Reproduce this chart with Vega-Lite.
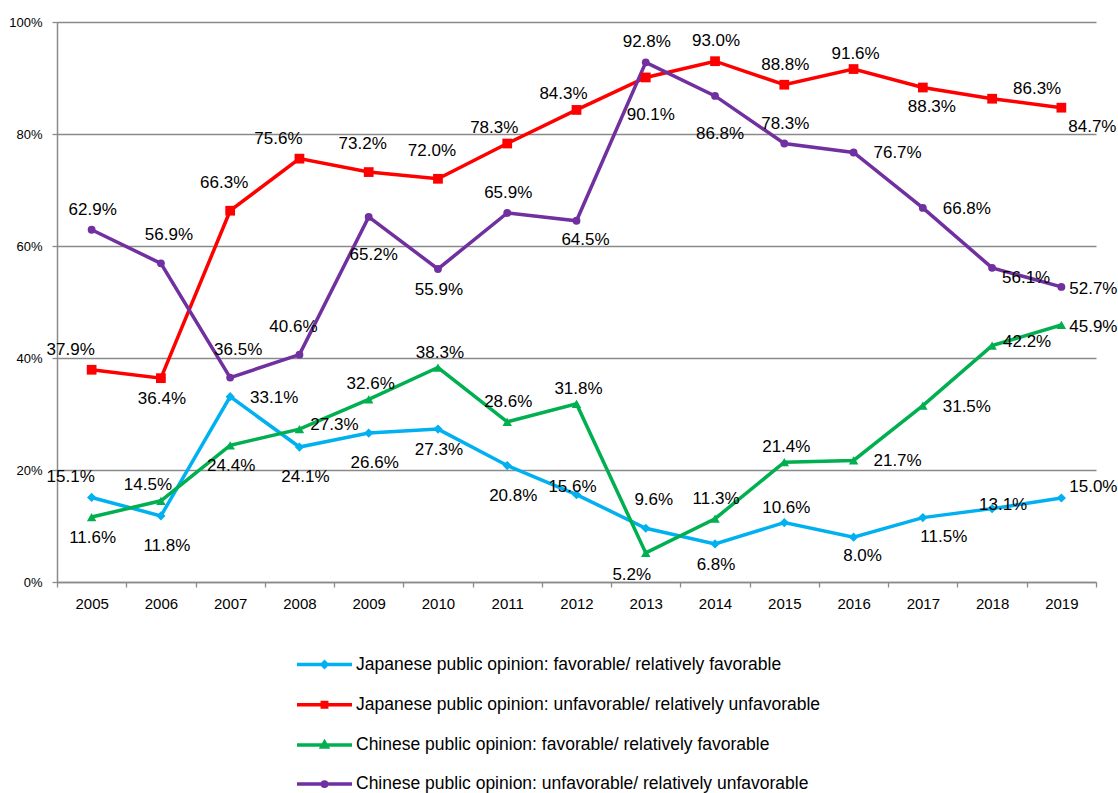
{
  "$schema": "https://vega.github.io/schema/vega-lite/v6.json",
  "autosize": {"type": "none"},
  "width": 1039,
  "height": 560,
  "padding": {"left": 57, "top": 22, "right": 22, "bottom": 211},
  "background": "white",
  "config": {
    "view": {"stroke": null},
    "text": {"font": "Liberation Sans", "fontSize": 17, "fill": "#000000"}
  },
  "data": {
    "values": [
      {"year": "2005", "id": "JF", "series": "Japanese public opinion: favorable/ relatively favorable", "value": 0.151},
      {"year": "2006", "id": "JF", "series": "Japanese public opinion: favorable/ relatively favorable", "value": 0.118},
      {"year": "2007", "id": "JF", "series": "Japanese public opinion: favorable/ relatively favorable", "value": 0.331},
      {"year": "2008", "id": "JF", "series": "Japanese public opinion: favorable/ relatively favorable", "value": 0.241},
      {"year": "2009", "id": "JF", "series": "Japanese public opinion: favorable/ relatively favorable", "value": 0.266},
      {"year": "2010", "id": "JF", "series": "Japanese public opinion: favorable/ relatively favorable", "value": 0.273},
      {"year": "2011", "id": "JF", "series": "Japanese public opinion: favorable/ relatively favorable", "value": 0.208},
      {"year": "2012", "id": "JF", "series": "Japanese public opinion: favorable/ relatively favorable", "value": 0.156},
      {"year": "2013", "id": "JF", "series": "Japanese public opinion: favorable/ relatively favorable", "value": 0.096},
      {"year": "2014", "id": "JF", "series": "Japanese public opinion: favorable/ relatively favorable", "value": 0.068},
      {"year": "2015", "id": "JF", "series": "Japanese public opinion: favorable/ relatively favorable", "value": 0.106},
      {"year": "2016", "id": "JF", "series": "Japanese public opinion: favorable/ relatively favorable", "value": 0.080},
      {"year": "2017", "id": "JF", "series": "Japanese public opinion: favorable/ relatively favorable", "value": 0.115},
      {"year": "2018", "id": "JF", "series": "Japanese public opinion: favorable/ relatively favorable", "value": 0.131},
      {"year": "2019", "id": "JF", "series": "Japanese public opinion: favorable/ relatively favorable", "value": 0.150},
      {"year": "2005", "id": "JU", "series": "Japanese public opinion: unfavorable/ relatively unfavorable", "value": 0.379},
      {"year": "2006", "id": "JU", "series": "Japanese public opinion: unfavorable/ relatively unfavorable", "value": 0.364},
      {"year": "2007", "id": "JU", "series": "Japanese public opinion: unfavorable/ relatively unfavorable", "value": 0.663},
      {"year": "2008", "id": "JU", "series": "Japanese public opinion: unfavorable/ relatively unfavorable", "value": 0.756},
      {"year": "2009", "id": "JU", "series": "Japanese public opinion: unfavorable/ relatively unfavorable", "value": 0.732},
      {"year": "2010", "id": "JU", "series": "Japanese public opinion: unfavorable/ relatively unfavorable", "value": 0.720},
      {"year": "2011", "id": "JU", "series": "Japanese public opinion: unfavorable/ relatively unfavorable", "value": 0.783},
      {"year": "2012", "id": "JU", "series": "Japanese public opinion: unfavorable/ relatively unfavorable", "value": 0.843},
      {"year": "2013", "id": "JU", "series": "Japanese public opinion: unfavorable/ relatively unfavorable", "value": 0.901},
      {"year": "2014", "id": "JU", "series": "Japanese public opinion: unfavorable/ relatively unfavorable", "value": 0.930},
      {"year": "2015", "id": "JU", "series": "Japanese public opinion: unfavorable/ relatively unfavorable", "value": 0.888},
      {"year": "2016", "id": "JU", "series": "Japanese public opinion: unfavorable/ relatively unfavorable", "value": 0.916},
      {"year": "2017", "id": "JU", "series": "Japanese public opinion: unfavorable/ relatively unfavorable", "value": 0.883},
      {"year": "2018", "id": "JU", "series": "Japanese public opinion: unfavorable/ relatively unfavorable", "value": 0.863},
      {"year": "2019", "id": "JU", "series": "Japanese public opinion: unfavorable/ relatively unfavorable", "value": 0.847},
      {"year": "2005", "id": "CF", "series": "Chinese public opinion: favorable/ relatively favorable", "value": 0.116},
      {"year": "2006", "id": "CF", "series": "Chinese public opinion: favorable/ relatively favorable", "value": 0.145},
      {"year": "2007", "id": "CF", "series": "Chinese public opinion: favorable/ relatively favorable", "value": 0.244},
      {"year": "2008", "id": "CF", "series": "Chinese public opinion: favorable/ relatively favorable", "value": 0.273},
      {"year": "2009", "id": "CF", "series": "Chinese public opinion: favorable/ relatively favorable", "value": 0.326},
      {"year": "2010", "id": "CF", "series": "Chinese public opinion: favorable/ relatively favorable", "value": 0.383},
      {"year": "2011", "id": "CF", "series": "Chinese public opinion: favorable/ relatively favorable", "value": 0.286},
      {"year": "2012", "id": "CF", "series": "Chinese public opinion: favorable/ relatively favorable", "value": 0.318},
      {"year": "2013", "id": "CF", "series": "Chinese public opinion: favorable/ relatively favorable", "value": 0.052},
      {"year": "2014", "id": "CF", "series": "Chinese public opinion: favorable/ relatively favorable", "value": 0.113},
      {"year": "2015", "id": "CF", "series": "Chinese public opinion: favorable/ relatively favorable", "value": 0.214},
      {"year": "2016", "id": "CF", "series": "Chinese public opinion: favorable/ relatively favorable", "value": 0.217},
      {"year": "2017", "id": "CF", "series": "Chinese public opinion: favorable/ relatively favorable", "value": 0.315},
      {"year": "2018", "id": "CF", "series": "Chinese public opinion: favorable/ relatively favorable", "value": 0.422},
      {"year": "2019", "id": "CF", "series": "Chinese public opinion: favorable/ relatively favorable", "value": 0.459},
      {"year": "2005", "id": "CU", "series": "Chinese public opinion: unfavorable/ relatively unfavorable", "value": 0.629},
      {"year": "2006", "id": "CU", "series": "Chinese public opinion: unfavorable/ relatively unfavorable", "value": 0.569},
      {"year": "2007", "id": "CU", "series": "Chinese public opinion: unfavorable/ relatively unfavorable", "value": 0.365},
      {"year": "2008", "id": "CU", "series": "Chinese public opinion: unfavorable/ relatively unfavorable", "value": 0.406},
      {"year": "2009", "id": "CU", "series": "Chinese public opinion: unfavorable/ relatively unfavorable", "value": 0.652},
      {"year": "2010", "id": "CU", "series": "Chinese public opinion: unfavorable/ relatively unfavorable", "value": 0.559},
      {"year": "2011", "id": "CU", "series": "Chinese public opinion: unfavorable/ relatively unfavorable", "value": 0.659},
      {"year": "2012", "id": "CU", "series": "Chinese public opinion: unfavorable/ relatively unfavorable", "value": 0.645},
      {"year": "2013", "id": "CU", "series": "Chinese public opinion: unfavorable/ relatively unfavorable", "value": 0.928},
      {"year": "2014", "id": "CU", "series": "Chinese public opinion: unfavorable/ relatively unfavorable", "value": 0.868},
      {"year": "2015", "id": "CU", "series": "Chinese public opinion: unfavorable/ relatively unfavorable", "value": 0.783},
      {"year": "2016", "id": "CU", "series": "Chinese public opinion: unfavorable/ relatively unfavorable", "value": 0.767},
      {"year": "2017", "id": "CU", "series": "Chinese public opinion: unfavorable/ relatively unfavorable", "value": 0.668},
      {"year": "2018", "id": "CU", "series": "Chinese public opinion: unfavorable/ relatively unfavorable", "value": 0.561},
      {"year": "2019", "id": "CU", "series": "Chinese public opinion: unfavorable/ relatively unfavorable", "value": 0.527}
    ]
  },
  "encoding": {
    "x": {
      "field": "year",
      "type": "ordinal",
      "scale": {"type": "band", "paddingInner": 0, "paddingOuter": 0},
      "axis": {
        "title": null,
        "tickBand": "extent",
        "grid": false,
        "labelAngle": 0,
        "domainColor": "#8a8a8a",
        "domainWidth": 1.5,
        "tickColor": "#8a8a8a",
        "tickSize": 5,
        "tickWidth": 1.3,
        "labelFont": "Liberation Sans",
        "labelFontSize": 15,
        "labelColor": "#000000",
        "labelPadding": 9
      }
    },
    "y": {
      "field": "value",
      "type": "quantitative",
      "scale": {"domain": [0, 1], "nice": false, "zero": true},
      "axis": {
        "title": null,
        "values": [0, 0.2, 0.4, 0.6, 0.8, 1],
        "format": ".0%",
        "grid": true,
        "gridColor": "#8a8a8a",
        "gridWidth": 1.3,
        "domainColor": "#8a8a8a",
        "domainWidth": 1.5,
        "tickColor": "#8a8a8a",
        "tickSize": 5,
        "tickWidth": 1.3,
        "labelFont": "Liberation Sans",
        "labelFontSize": 13,
        "labelColor": "#000000",
        "labelPadding": 10
      }
    },
    "color": {
      "field": "series",
      "type": "nominal",
      "scale": {
        "domain": [
          "Japanese public opinion: favorable/ relatively favorable",
          "Japanese public opinion: unfavorable/ relatively unfavorable",
          "Chinese public opinion: favorable/ relatively favorable",
          "Chinese public opinion: unfavorable/ relatively unfavorable"
        ],
        "range": ["#00B0F0", "#FF0000", "#00B050", "#7030A0"]
      },
      "legend": {
        "orient": "none",
        "legendX": 255.5,
        "legendY": 630.5,
        "direction": "vertical",
        "title": null,
        "padding": 0,
        "symbolSize": 400,
        "symbolStrokeWidth": 3.5,
        "rowPadding": 18.2,
        "labelOffset": 19.5,
        "labelFont": "Liberation Sans",
        "labelFontSize": 17.5,
        "labelColor": "#000000",
        "labelLimit": 0,
        "encode": {
          "symbols": {
            "update": {
              "shape": {"signal": "datum.value === 'Japanese public opinion: favorable/ relatively favorable' ? 'M-2.75,0H2.75M0,-0.25L0.25,0L0,0.25L-0.25,0Z' : datum.value === 'Japanese public opinion: unfavorable/ relatively unfavorable' ? 'M-2.75,0H2.75M-0.22,-0.22H0.22V0.22H-0.22Z' : datum.value === 'Chinese public opinion: favorable/ relatively favorable' ? 'M-2.75,0H2.75M0,-0.27L0.27,0.2L-0.27,0.2Z' : 'M-2.75,0H2.75M-0.22,0A0.22,0.22,0,1,0,0.22,0A0.22,0.22,0,1,0,-0.22,0Z'"},
              "fill": {"scale": "color", "field": "value"},
              "stroke": {"scale": "color", "field": "value"},
              "strokeWidth": {"value": 3.5},
              "opacity": {"value": 1}
            }
          }
        }
      }
    }
  },
  "layer": [
    {
      "mark": {"type": "line", "strokeWidth": 3.5}
    },
    {
      "transform": [{"filter": "datum.id === 'JF'"}],
      "mark": {"type": "point", "filled": true, "opacity": 1, "shape": "diamond", "size": 85}
    },
    {
      "transform": [{"filter": "datum.id === 'JU'"}],
      "mark": {"type": "point", "filled": true, "opacity": 1, "shape": "square", "size": 95}
    },
    {
      "transform": [{"filter": "datum.id === 'CF'"}],
      "mark": {"type": "point", "filled": true, "opacity": 1, "shape": "triangle-up", "size": 90}
    },
    {
      "transform": [{"filter": "datum.id === 'CU'"}],
      "mark": {"type": "point", "filled": true, "opacity": 1, "shape": "circle", "size": 62}
    },
    {"transform": [{"filter": "indexof(['JF2015','JU2016','CF2009','CF2010','CF2012','CF2015'], datum.id + datum.year) >= 0"}], "mark": {"type": "text", "dx": 2, "dy": -15}, "encoding": {"color": {"value": "#000000"}, "text": {"field": "value", "format": ".1%"}}},
    {"transform": [{"filter": "indexof(['JU2014','JU2015','CF2011','CF2014','CU2005','CU2011','CU2013','CU2015'], datum.id + datum.year) >= 0"}], "mark": {"type": "text", "dx": 1, "dy": -20}, "encoding": {"color": {"value": "#000000"}, "text": {"field": "value", "format": ".1%"}}},
    {"transform": [{"filter": "indexof(['JU2009','JU2010','JU2007','CU2008'], datum.id + datum.year) >= 0"}], "mark": {"type": "text", "dx": -6, "dy": -28}, "encoding": {"color": {"value": "#000000"}, "text": {"field": "value", "format": ".1%"}}},
    {"transform": [{"filter": "indexof(['JF2013','CU2006','CU2007'], datum.id + datum.year) >= 0"}], "mark": {"type": "text", "dx": 8, "dy": -28}, "encoding": {"color": {"value": "#000000"}, "text": {"field": "value", "format": ".1%"}}},
    {"transform": [{"filter": "indexof(['JF2005','JU2005','JU2008'], datum.id + datum.year) >= 0"}], "mark": {"type": "text", "dx": -21, "dy": -20}, "encoding": {"color": {"value": "#000000"}, "text": {"field": "value", "format": ".1%"}}},
    {"transform": [{"filter": "indexof(['JU2011','JU2012','CF2006'], datum.id + datum.year) >= 0"}], "mark": {"type": "text", "dx": -13, "dy": -16}, "encoding": {"color": {"value": "#000000"}, "text": {"field": "value", "format": ".1%"}}},
    {"transform": [{"filter": "indexof(['JF2010','JF2014','JU2006','CF2005','CF2007','CU2010'], datum.id + datum.year) >= 0"}], "mark": {"type": "text", "dx": 1, "dy": 21}, "encoding": {"color": {"value": "#000000"}, "text": {"field": "value", "format": ".1%"}}},
    {"transform": [{"filter": "indexof(['JF2016','JU2017','CU2012'], datum.id + datum.year) >= 0"}], "mark": {"type": "text", "dx": 9, "dy": 19}, "encoding": {"color": {"value": "#000000"}, "text": {"field": "value", "format": ".1%"}}},
    {"transform": [{"filter": "indexof(['CF2013'], datum.id + datum.year) >= 0"}], "mark": {"type": "text", "dx": -14, "dy": 22}, "encoding": {"color": {"value": "#000000"}, "text": {"field": "value", "format": ".1%"}}},
    {"transform": [{"filter": "indexof(['JF2006','JF2008','JF2009','JF2011'], datum.id + datum.year) >= 0"}], "mark": {"type": "text", "dx": 6, "dy": 30}, "encoding": {"color": {"value": "#000000"}, "text": {"field": "value", "format": ".1%"}}},
    {"transform": [{"filter": "indexof(['JU2013','CU2014','CU2009'], datum.id + datum.year) >= 0"}], "mark": {"type": "text", "dx": 5, "dy": 38}, "encoding": {"color": {"value": "#000000"}, "text": {"field": "value", "format": ".1%"}}},
    {"transform": [{"filter": "indexof(['JF2007','CF2016','CF2017','CU2016','CU2017'], datum.id + datum.year) >= 0"}], "mark": {"type": "text", "dx": 44, "dy": 1}, "encoding": {"color": {"value": "#000000"}, "text": {"field": "value", "format": ".1%"}}},
    {"transform": [{"filter": "indexof(['CF2019','CU2019'], datum.id + datum.year) >= 0"}], "mark": {"type": "text", "dx": 32, "dy": 2}, "encoding": {"color": {"value": "#000000"}, "text": {"field": "value", "format": ".1%"}}},
    {"transform": [{"filter": "indexof(['CF2008','CF2018'], datum.id + datum.year) >= 0"}], "mark": {"type": "text", "dx": 35, "dy": -4}, "encoding": {"color": {"value": "#000000"}, "text": {"field": "value", "format": ".1%"}}},
    {"transform": [{"filter": "indexof(['CU2018'], datum.id + datum.year) >= 0"}], "mark": {"type": "text", "dx": 34, "dy": 10}, "encoding": {"color": {"value": "#000000"}, "text": {"field": "value", "format": ".1%"}}},
    {"transform": [{"filter": "indexof(['JU2018'], datum.id + datum.year) >= 0"}], "mark": {"type": "text", "dx": 45, "dy": -10}, "encoding": {"color": {"value": "#000000"}, "text": {"field": "value", "format": ".1%"}}},
    {"transform": [{"filter": "indexof(['JF2019'], datum.id + datum.year) >= 0"}], "mark": {"type": "text", "dx": 32, "dy": -11}, "encoding": {"color": {"value": "#000000"}, "text": {"field": "value", "format": ".1%"}}},
    {"transform": [{"filter": "indexof(['JU2019'], datum.id + datum.year) >= 0"}], "mark": {"type": "text", "dx": 31, "dy": 19}, "encoding": {"color": {"value": "#000000"}, "text": {"field": "value", "format": ".1%"}}},
    {"transform": [{"filter": "indexof(['JF2017'], datum.id + datum.year) >= 0"}], "mark": {"type": "text", "dx": 21, "dy": 19}, "encoding": {"color": {"value": "#000000"}, "text": {"field": "value", "format": ".1%"}}},
    {"transform": [{"filter": "indexof(['JF2018'], datum.id + datum.year) >= 0"}], "mark": {"type": "text", "dx": 11, "dy": -4}, "encoding": {"color": {"value": "#000000"}, "text": {"field": "value", "format": ".1%"}}},
    {"transform": [{"filter": "indexof(['JF2012'], datum.id + datum.year) >= 0"}], "mark": {"type": "text", "dx": -4, "dy": -8}, "encoding": {"color": {"value": "#000000"}, "text": {"field": "value", "format": ".1%"}}}
  ]
}
